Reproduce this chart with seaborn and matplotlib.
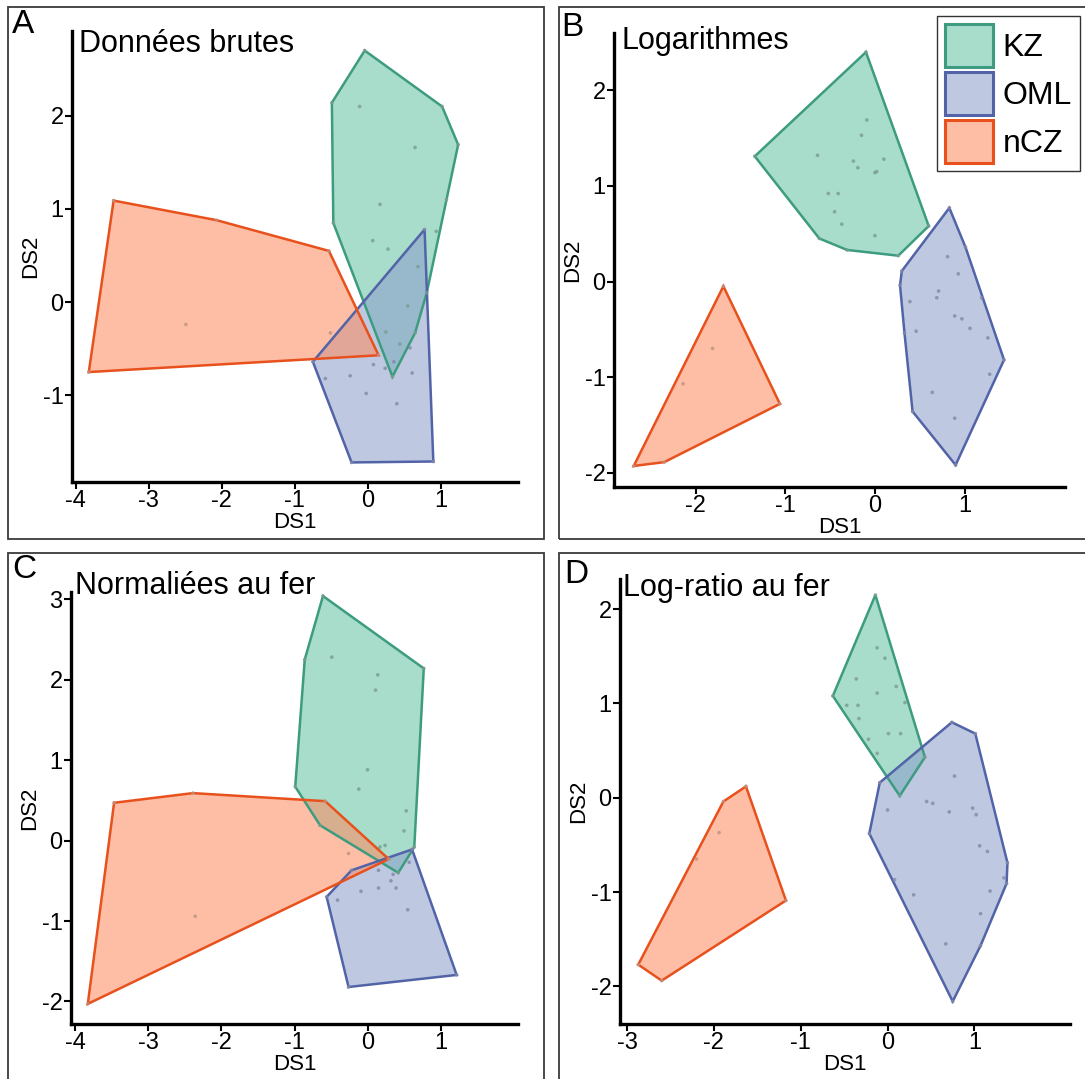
import matplotlib.pyplot as plt
import matplotlib.patches as mpatches
from matplotlib.colors import to_rgba
import pandas as pd
import seaborn as sns

W, H = 1085, 1079

GROUPS = ['KZ', 'OML', 'nCZ']
FILL = {'KZ': '#66c2a5', 'OML': '#8da0cb', 'nCZ': '#fc8d62'}
EDGE = {'KZ': '#3d9c80', 'OML': '#5263a8', 'nCZ': '#e8501c'}
DOT = {'KZ': '#7a9c92', 'OML': '#8088a8', 'nCZ': '#c09282'}

# A - Données brutes
A_KZ_DS1 = [-0.04, 1.02, 1.24, 1.08, 0.81, 0.65, 0.34, -0.47, -0.49,
            -0.11, 0.65, 0.17, 0.07, 0.28, 0.94, 0.69, 0.55, 0.25, 0.44]
A_KZ_DS2 = [2.70, 2.10, 1.69, 1.10, 0.10, -0.33, -0.80, 0.85, 2.14,
            2.10, 1.66, 1.05, 0.66, 0.57, 0.76, 0.38, -0.04, -0.32, -0.45]
A_OML_DS1 = [0.78, 0.90, -0.22, -0.75, -0.58, -0.24, -0.02, 0.40, 0.61, 0.08, 0.24, 0.36, 0.58]
A_OML_DS2 = [0.78, -1.71, -1.72, -0.64, -0.82, -0.79, -0.98, -1.09, -0.76, -0.67, -0.71, -0.64, -0.49]
A_NCZ_DS1 = [-3.48, -2.07, -0.53, 0.15, -3.82, -2.49, -0.51]
A_NCZ_DS2 = [1.09, 0.88, 0.55, -0.57, -0.75, -0.24, -0.33]

# B - Logarithmes
B_KZ_DS1 = [-0.10, 0.60, 0.26, -0.31, -0.62, -1.34,
            -0.09, -0.15, -0.64, -0.24, -0.19, 0.10, 0.0, 0.02, -0.52, -0.41, -0.45, -0.37, 0.0]
B_KZ_DS2 = [2.40, 0.58, 0.27, 0.33, 0.45, 1.31,
            1.69, 1.53, 1.32, 1.26, 1.19, 1.28, 1.14, 1.15, 0.92, 0.92, 0.73, 0.60, 0.48]
B_OML_DS1 = [0.83, 1.01, 1.44, 0.90, 0.42, 0.33, 0.28, 0.30,
             0.81, 0.93, 0.71, 0.69, 0.39, 0.89, 0.97, 0.46, 1.06, 1.19, 1.26, 1.28, 0.64, 0.89]
B_OML_DS2 = [0.77, 0.36, -0.82, -1.92, -1.36, -0.54, -0.04, 0.11,
             0.26, 0.08, -0.10, -0.17, -0.21, -0.36, -0.39, -0.52, -0.49, -0.17, -0.59, -0.97, -1.16, -1.43]
B_NCZ_DS1 = [-1.69, -1.06, -2.35, -2.69, -1.81, -2.14]
B_NCZ_DS2 = [-0.05, -1.28, -1.89, -1.93, -0.70, -1.07]

# C - Normaliées au fer
C_KZ_DS1 = [-0.61, 0.77, 0.64, 0.42, -0.65, -0.99, -0.86,
            -0.49, 0.14, 0.11, 0.0, -0.12, 0.53, 0.50, 0.24, 0.17]
C_KZ_DS2 = [3.04, 2.14, -0.08, -0.40, 0.19, 0.67, 2.25,
            2.28, 2.06, 1.87, 0.88, 0.64, 0.37, 0.12, -0.06, -0.08]
C_OML_DS1 = [0.61, 1.22, -0.26, -0.56, -0.22,
             -0.41, -0.09, 0.15, 0.39, 0.32, 0.35, 0.15, 0.55, 0.57]
C_OML_DS2 = [-0.11, -1.67, -1.82, -0.70, -0.37,
             -0.74, -0.63, -0.59, -0.59, -0.50, -0.42, -0.37, -0.86, -0.27]
C_NCZ_DS1 = [-3.47, -2.39, -0.58, 0.29, -3.83, -2.36, -0.26]
C_NCZ_DS2 = [0.47, 0.59, 0.49, -0.23, -2.03, -0.94, -0.16]

# D - Log-ratio au fer
D_KZ_DS1 = [-0.14, 0.43, 0.14, -0.63,
            -0.12, -0.03, -0.36, 0.10, -0.12, -0.47, -0.34, 0.20, -0.33, -0.22, 0.01, 0.15, -0.12]
D_KZ_DS2 = [2.15, 0.43, 0.02, 1.08,
            1.59, 1.48, 1.26, 1.18, 1.11, 0.98, 0.98, 1.01, 0.84, 0.62, 0.68, 0.68, 0.47]
D_OML_DS1 = [0.74, 1.01, 1.38, 1.37, 1.07, 0.75, -0.21, -0.09,
             0.77, 0.45, 0.52, 0.0, 0.71, 0.98, 1.02, 1.06, 1.15, 1.34, 1.18, 0.30, 0.08, 1.07, 0.67]
D_OML_DS2 = [0.80, 0.68, -0.69, -0.91, -1.57, -2.16, -0.38, 0.16,
             0.23, -0.04, -0.06, -0.13, -0.15, -0.11, -0.18, -0.51, -0.57, -0.85, -0.99, -1.03, -0.87, -1.23, -1.55]
D_NCZ_DS1 = [-1.63, -1.17, -2.60, -2.87, -1.89, -1.94, -2.20]
D_NCZ_DS2 = [0.12, -1.09, -1.94, -1.77, -0.04, -0.37, -0.65]

TITLES = ['Données brutes', 'Logarithmes', 'Normaliées au fer', 'Log-ratio au fer']
LETTERS = ['A', 'B', 'C', 'D']


def make_df(kz_x, kz_y, oml_x, oml_y, ncz_x, ncz_y):
    rows = []
    for g, xs, ys in [('KZ', kz_x, kz_y), ('OML', oml_x, oml_y), ('nCZ', ncz_x, ncz_y)]:
        for x, y in zip(xs, ys):
            rows.append({'DS1': x, 'DS2': y, 'group': g})
    return pd.DataFrame(rows)


def hull(points):
    pts = sorted(set(points))

    def cross(o, a, b):
        return (a[0] - o[0]) * (b[1] - o[1]) - (a[1] - o[1]) * (b[0] - o[0])

    lower, upper = [], []
    for p in pts:
        while len(lower) >= 2 and cross(lower[-2], lower[-1], p) <= 0:
            lower.pop()
        lower.append(p)
    for p in reversed(pts):
        while len(upper) >= 2 and cross(upper[-2], upper[-1], p) <= 0:
            upper.pop()
        upper.append(p)
    return lower[:-1] + upper[:-1]


frames = [
    make_df(A_KZ_DS1, A_KZ_DS2, A_OML_DS1, A_OML_DS2, A_NCZ_DS1, A_NCZ_DS2),
    make_df(B_KZ_DS1, B_KZ_DS2, B_OML_DS1, B_OML_DS2, B_NCZ_DS1, B_NCZ_DS2),
    make_df(C_KZ_DS1, C_KZ_DS2, C_OML_DS1, C_OML_DS2, C_NCZ_DS1, C_NCZ_DS2),
    make_df(D_KZ_DS1, D_KZ_DS2, D_OML_DS1, D_OML_DS2, D_NCZ_DS1, D_NCZ_DS2),
]

# layout in pixels: axes (left, top, right, bottom), limits, ticks
axes_px = [(72, 31, 518, 482), (614, 33, 1065, 487), (71, 592, 518, 1024), (620, 579, 1070, 1024)]
xlims = [(-4.05, 2.06), (-2.91, 2.12), (-4.06, 2.06), (-3.08, 2.10)]
ylims = [(-1.93, 2.91), (-2.15, 2.60), (-2.28, 3.09), (-2.40, 2.32)]
xticks = [range(-4, 2), range(-2, 2), range(-4, 2), range(-3, 2)]
yticks = [range(-1, 3), range(-2, 3), range(-2, 4), range(-2, 3)]
title_px = [(79, 44), (622, 41), (75, 586), (623, 588)]
letter_px = [(12, 9), (561, 12), (12, 554), (564, 559)]
frame_px = [(8, 7, 544, 539), (559, 7, 1095, 539), (8, 553, 544, 1095), (559, 553, 1095, 1095)]

sns.set_theme(style='white')
plt.rcParams['font.family'] = ['Liberation Sans', 'DejaVu Sans']
plt.rcParams['axes.unicode_minus'] = False
plt.rcParams['text.color'] = 'black'

fig = plt.figure(figsize=(W / 100, H / 100), dpi=100)

for i, df in enumerate(frames):
    l, t, r, b = axes_px[i]
    ax = fig.add_axes([l / W, 1 - b / H, (r - l) / W, (b - t) / H])
    for g in GROUPS:
        sub = df[df['group'] == g]
        hp = hull(list(zip(sub['DS1'], sub['DS2'])))
        ax.fill([p[0] for p in hp], [p[1] for p in hp], facecolor=FILL[g], alpha=0.57,
                edgecolor='none', zorder=2)
        ax.fill([p[0] for p in hp], [p[1] for p in hp], facecolor='none',
                edgecolor=EDGE[g], linewidth=1.8, zorder=3)
    sns.scatterplot(data=df, x='DS1', y='DS2', hue='group', palette=DOT, s=7,
                    linewidth=0, alpha=0.8, legend=False, ax=ax, zorder=4)
    ax.set_xlim(*xlims[i])
    ax.set_ylim(*ylims[i])
    ax.set_xticks(list(xticks[i]))
    ax.set_yticks(list(yticks[i]))
    ax.tick_params(direction='out', length=5, width=1.5, color='black', labelsize=17,
                   labelcolor='black', bottom=True, left=True, pad=1)
    for s in ['top', 'right']:
        ax.spines[s].set_visible(False)
    for s in ['left', 'bottom']:
        ax.spines[s].set_color('black')
        ax.spines[s].set_linewidth(2.4)
    ax.set_xlabel('DS1', fontsize=16, labelpad=0, color='black')
    ax.set_ylabel('DS2', fontsize=16, labelpad=1, color='black')
    ax.patch.set_alpha(0)

    tx, ty = title_px[i]
    fig.text(tx / W, 1 - ty / H, TITLES[i], fontsize=22, ha='left', va='center')
    lx, ly = letter_px[i]
    fig.text(lx / W, 1 - ly / H, LETTERS[i], fontsize=24, ha='left', va='top')
    fl, ft, fr, fb = frame_px[i]
    fig.add_artist(mpatches.Rectangle((fl / W, 1 - fb / H), (fr - fl) / W, (fb - ft) / H,
                                      transform=fig.transFigure, fill=False,
                                      edgecolor='#3a3a3a', linewidth=1.3))

handles = [mpatches.Patch(facecolor=to_rgba(FILL[g], 0.57), edgecolor=EDGE[g],
                          linewidth=2.2, label=g) for g in GROUPS]
leg = fig.legend(handles=handles, loc='upper right', bbox_to_anchor=(1080 / W, 1 - 16 / H),
                 fontsize=23, frameon=True, fancybox=False, edgecolor='black',
                 handlelength=1.5, handleheight=1.7, handletextpad=0.3,
                 labelspacing=0.15, borderpad=0.25, borderaxespad=0)
leg.get_frame().set_linewidth(1.0)

fig.savefig('out.png', dpi=100)
